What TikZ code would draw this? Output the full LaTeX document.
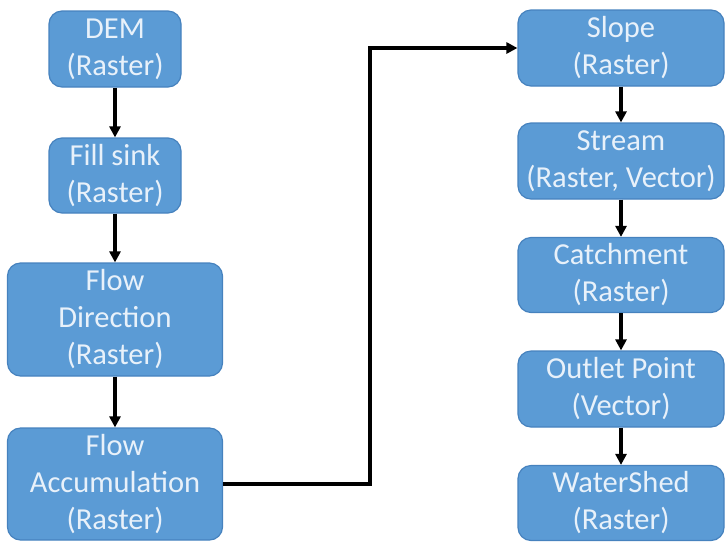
\documentclass[tikz,border=0pt]{standalone}
\usepackage{fontspec}
\setmainfont{Carlito}
\usetikzlibrary{arrows.meta}
\definecolor{boxfill}{RGB}{91,155,213}
\definecolor{boxedge}{RGB}{70,130,190}
\definecolor{boxtext}{RGB}{232,241,250}
\tikzset{
  stepbox/.style={draw=boxedge, line width=1.2pt, fill=boxfill, rounded corners=13pt,
    text=boxtext, align=center, inner sep=0pt,
    font=\fontsize{30.5}{37}\selectfont},
  flowarrow/.style={draw=black, line width=3.2pt,
    -{Triangle[length=11pt,width=11pt]}}
}
\begin{document}
\begin{tikzpicture}[x=1pt,y=-1pt]
  \useasboundingbox (0,0) rectangle (725,542);
  \clip (0,0) rectangle (725,542);
  % left column
  \node[stepbox, minimum width=132pt, minimum height=76pt] (dem)  at (115,49)   {DEM\\(Raster)};
  \node[stepbox, minimum width=132pt, minimum height=75pt] (fill) at (115,175.5) {Fill sink\\(Raster)};
  \node[stepbox, minimum width=215pt, minimum height=113pt] (fdir) at (115,319.5) {Flow\\Direction\\(Raster)};
  \node[stepbox, minimum width=215pt, minimum height=112pt] (facc) at (115,484) {Flow\\Accumulation\\(Raster)};
  % right column
  \node[stepbox, minimum width=206pt, minimum height=76pt] (slope)  at (621,48)  {Slope\\(Raster)};
  \node[stepbox, minimum width=206pt, minimum height=76pt] (stream) at (621,161) {Stream\\(Raster, Vector)};
  \node[stepbox, minimum width=206pt, minimum height=75pt] (catch)  at (621,275) {Catchment\\(Raster)};
  \node[stepbox, minimum width=206pt, minimum height=76pt] (outlet) at (621,389) {Outlet Point\\(Vector)};
  \node[stepbox, minimum width=206pt, minimum height=75pt] (wshed)  at (621,503) {WaterShed\\(Raster)};
  % connectors
  \draw[flowarrow] (dem) -- (fill);
  \draw[flowarrow] (fill) -- (fdir);
  \draw[flowarrow] (fdir) -- (facc);
  \coordinate (bend) at (370,484);
  \draw[flowarrow] (facc.east) -- (bend) |- (slope.west);
  \draw[flowarrow] (slope) -- (stream);
  \draw[flowarrow] (stream) -- (catch);
  \draw[flowarrow] (catch) -- (outlet);
  \draw[flowarrow] (outlet) -- (wshed);
\end{tikzpicture}
\end{document}
